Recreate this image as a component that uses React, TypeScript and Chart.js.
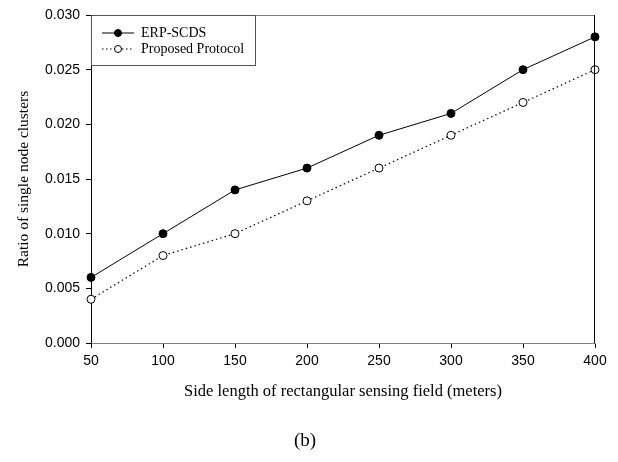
import React, { useEffect, useRef } from "react";
import { Chart, registerables } from "chart.js";

Chart.register(...registerables);

const sideLengths = [50, 100, 150, 200, 250, 300, 350, 400];
const erpScds = [0.006, 0.01, 0.014, 0.016, 0.019, 0.021, 0.025, 0.028];
const proposed = [0.004, 0.008, 0.01, 0.013, 0.016, 0.019, 0.022, 0.025];
const seriesNames = ["ERP-SCDS", "Proposed Protocol"];
const xTitle = "Side length of rectangular sensing field (meters)";
const yTitle = "Ratio of single node clusters";
const caption = "(b)";

const SERIF = "'Liberation Serif', 'Times New Roman', serif";
const SANS = "'Liberation Sans', Arial, sans-serif";

const framePlugin = {
  id: "frame",
  afterDraw(chart: any) {
    const { ctx, chartArea } = chart;
    const { left, right, top, bottom } = chartArea;
    ctx.save();
    ctx.lineWidth = 1;
    ctx.strokeStyle = "#808080";
    ctx.beginPath();
    ctx.moveTo(left, top + 0.5);
    ctx.lineTo(right, top + 0.5);
    ctx.stroke();
    ctx.strokeStyle = "#000";
    ctx.beginPath();
    ctx.moveTo(right - 0.5, top);
    ctx.lineTo(right - 0.5, bottom);
    ctx.stroke();

    // legend box
    const bx = left + 0.5;
    const by = top + 0.5;
    const bw = 164;
    const bh = 50;
    ctx.fillStyle = "#fff";
    ctx.fillRect(bx, by, bw, bh);
    ctx.strokeStyle = "#555";
    ctx.strokeRect(bx, by, bw, bh);

    const rows = [
      { y: top + 18, dash: [], fill: "#000" },
      { y: top + 34, dash: [1.5, 2.5], fill: "#fff" },
    ];
    rows.forEach((r, i) => {
      ctx.strokeStyle = "#000";
      ctx.lineWidth = 1;
      ctx.setLineDash(r.dash);
      ctx.beginPath();
      ctx.moveTo(left + 11, r.y);
      ctx.lineTo(left + 43, r.y);
      ctx.stroke();
      ctx.setLineDash([]);
      ctx.beginPath();
      ctx.arc(left + 27, r.y, 3.5, 0, Math.PI * 2);
      ctx.fillStyle = r.fill;
      ctx.fill();
      ctx.stroke();
      ctx.fillStyle = "#000";
      ctx.font = `14px ${SERIF}`;
      ctx.textBaseline = "middle";
      ctx.textAlign = "left";
      ctx.fillText(seriesNames[i], left + 50, r.y);
    });

    ctx.font = `19px ${SERIF}`;
    ctx.textAlign = "center";
    ctx.textBaseline = "middle";
    ctx.fillStyle = "#000";
    ctx.fillText(caption, 305, 441);
    ctx.restore();
  },
};

export default function App() {
  const ref = useRef<HTMLCanvasElement>(null);
  useEffect(() => {
    document.body.style.margin = "0";
    const canvas = ref.current!;
    const chart = new Chart(canvas, {
      type: "line",
      data: {
        datasets: [
          {
            label: seriesNames[0],
            data: sideLengths.map((x, i) => ({ x, y: erpScds[i] })),
            borderColor: "#000",
            borderWidth: 1,
            pointRadius: 4,
            pointBackgroundColor: "#000",
            pointBorderColor: "#000",
            pointBorderWidth: 1,
            clip: false as any,
          },
          {
            label: seriesNames[1],
            data: sideLengths.map((x, i) => ({ x, y: proposed[i] })),
            borderColor: "#000",
            borderWidth: 1.2,
            borderDash: [1.5, 3],
            pointRadius: 4,
            pointBackgroundColor: "#fff",
            pointBorderColor: "#000",
            pointBorderWidth: 1,
            clip: false as any,
          },
        ],
      },
      options: {
        responsive: false,
        animation: false,
        layout: { padding: { left: 0, top: 15, right: 23, bottom: 0 } },
        plugins: { legend: { display: false }, tooltip: { enabled: false } },
        scales: {
          x: {
            type: "linear",
            min: 50,
            max: 400,
            afterFit: (s: any) => {
              s.height = 119;
            },
            ticks: {
              stepSize: 50,
              color: "#000",
              font: { family: SANS, size: 14 },
              padding: 5,
              maxRotation: 0,
            },
            grid: {
              drawOnChartArea: false,
              drawTicks: true,
              tickLength: 5,
              color: "#000",
            },
            border: { color: "#808080", width: 1 },
            title: {
              display: true,
              text: xTitle,
              color: "#000",
              font: { family: SERIF, size: 16.5 },
              padding: { top: 0, bottom: 60 },
            },
          },
          y: {
            type: "linear",
            min: 0,
            max: 0.03,
            afterFit: (s: any) => {
              s.width = 91;
            },
            ticks: {
              stepSize: 0.005,
              color: "#000",
              font: { family: SANS, size: 14 },
              padding: 6,
              callback: (v: any) => Number(v).toFixed(3),
            },
            grid: {
              drawOnChartArea: false,
              drawTicks: true,
              tickLength: 5,
              color: "#000",
            },
            border: { color: "#000", width: 1 },
            title: {
              display: true,
              text: yTitle,
              color: "#000",
              font: { family: SERIF, size: 15.5 },
              padding: { top: 14.5, bottom: 0 },
            },
          },
        },
      },
      plugins: [framePlugin],
    });
    return () => chart.destroy();
  }, []);
  return <canvas ref={ref} width={618} height={462} style={{ display: "block" }} />;
}
